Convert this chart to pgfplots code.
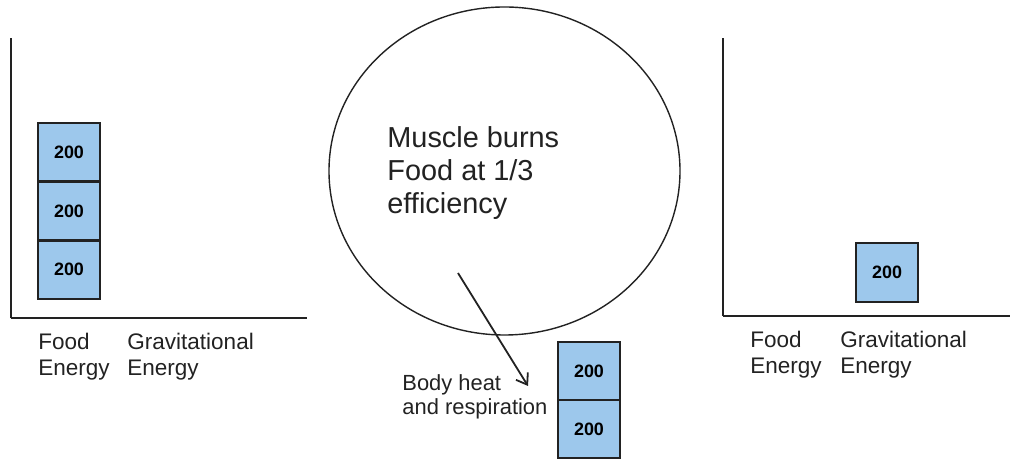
\documentclass[border=0pt]{standalone}
\usepackage{pgfplots}
\pgfplotsset{compat=1.18}
\usepackage{fontspec}
\setmainfont{Liberation Sans}
\usetikzlibrary{arrows.meta}
\definecolor{boxfill}{RGB}{157,200,236}
\definecolor{ink}{RGB}{34,34,34}
\pgfplotsset{
  energy/.style={
    scale only axis, anchor=south west,
    axis x line=bottom, axis y line=left,
    axis line style={-, line width=1.1bp, draw=ink},
    ytick=\empty, major tick length=0pt,
    xticklabel style={anchor=north west, align=left, inner sep=0pt, yshift=-7.5bp,
      font=\fontsize{11.3}{13}\selectfont, text=ink},
    ybar stacked, bar width=31bp, clip=false,
  },
}
\tikzset{boxlabel/.style={font=\fontsize{9}{10}\selectfont\bfseries, text=black},
  ebox/.style={fill=boxfill, draw=ink, line width=1.2bp}}
\begin{document}
\begin{tikzpicture}[x=0.5bp, y=-0.5bp]
\useasboundingbox (0,0) rectangle (1010,459);
% left chart
\begin{axis}[energy, at={(5.5bp,-159bp)}, width=148bp, height=140bp,
  xmin=0, xmax=296, ymin=-65, ymax=890,
  xtick={27,116}, xticklabels={{Food\\Energy},{Gravitational\\Energy}}]
\addplot[ebox] coordinates {(58,200)};
\addplot[ebox] coordinates {(58,200)};
\addplot[ebox] coordinates {(58,200)};
\coordinate (A1) at (axis cs:58,100);
\coordinate (A2) at (axis cs:58,300);
\coordinate (A3) at (axis cs:58,500);
\end{axis}
% right chart
\begin{axis}[energy, at={(361.5bp,-158bp)}, width=143.5bp, height=139bp,
  xmin=0, xmax=287, ymin=-48, ymax=900,
  xtick={27,117}, xticklabels={{Food\\Energy},{Gravitational\\Energy}}]
\addplot[ebox] coordinates {(164,200)};
\coordinate (B1) at (axis cs:164,100);
\end{axis}
% body heat boxes
\begin{axis}[energy, axis lines=none, at={(279bp,-229bp)}, width=31bp, height=58bp,
  xmin=0, xmax=62, ymin=0, ymax=400, xtick=\empty]
\addplot[ebox] coordinates {(31,200)};
\addplot[ebox] coordinates {(31,200)};
\coordinate (C1) at (axis cs:31,100);
\coordinate (C2) at (axis cs:31,300);
\end{axis}
\foreach \p in {A1,A2,A3,B1,C1,C2} \node[boxlabel] at (\p) {200};
% muscle
\draw[ink, line width=0.7bp] (504.5,171) ellipse [x radius=87.75bp, y radius=82bp];
\node[anchor=base west, align=left, inner sep=0pt, text=ink,
  font=\fontsize{14.5}{16.75}\selectfont] at (387,214)
  {Muscle burns\\Food at 1/3\\efficiency};
\draw[ink, line width=0.9bp, -{Straight Barb[length=5bp, width=7bp, line width=0.9bp]}]
  (458,273) -- (528,386);
\node[anchor=base west, align=left, inner sep=0pt, text=ink,
  font=\fontsize{11}{12.5}\selectfont] at (402,415)
  {Body heat\\and respiration};
\end{tikzpicture}
\end{document}
